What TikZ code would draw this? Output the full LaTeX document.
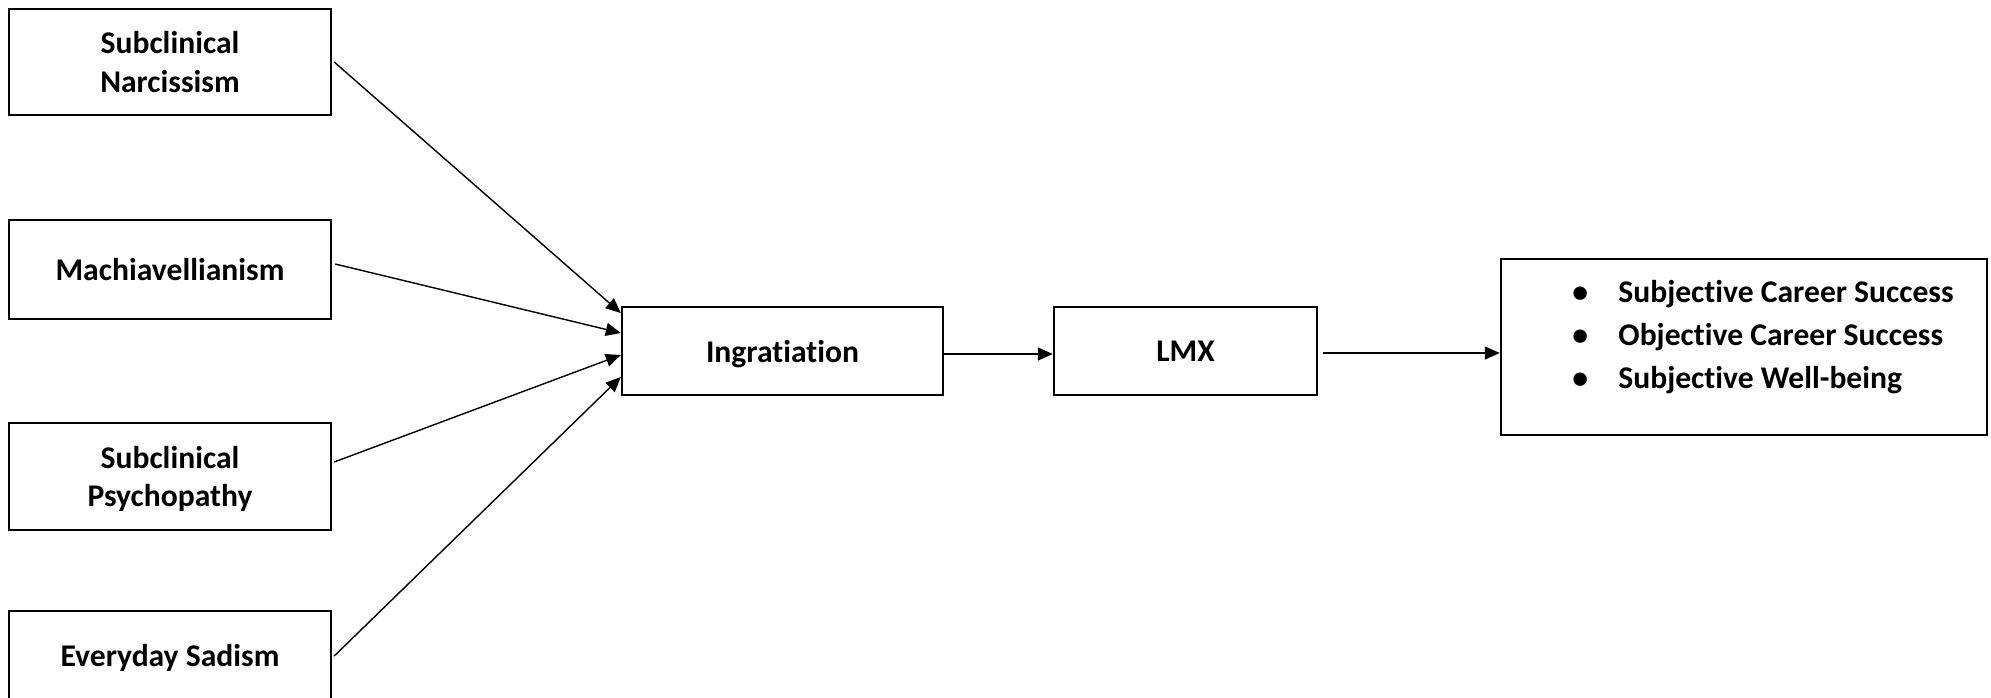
\documentclass[tikz,border=0pt]{standalone}
\usepackage{fontspec}
\setmainfont{Carlito}[RawFeature={-liga;-clig;-calt;-dlig}]
\usetikzlibrary{arrows.meta}

\begin{document}
\begin{tikzpicture}[
    x=0.5pt, y=-0.5pt,
    box/.style={draw=black, line width=1.2pt, rectangle, inner sep=0pt,
                align=center, font=\fontsize{15.8}{19.2}\selectfont\bfseries},
    nodesc/.style={text depth=0pt},
    link/.style={line width=0.7pt, -{Triangle[length=7.5pt, width=6.5pt]}}
  ]
  \useasboundingbox (0,0) rectangle (1991,697);
  \clip (0,0) rectangle (1991,697);

  % dark-triad / sadism traits
  \node[box, minimum width=161pt, minimum height=53pt]   (narc) at (170,62)    {Subclinical\\Narcissism};
  \node[box, minimum width=161pt, minimum height=49.5pt] (mach) at (170,269.5) {Machiavellianism};
  \node[box, nodesc, minimum width=161pt, minimum height=53.5pt] (psych) at (170,476.5) {Subclinical\\Psychopathy};
  \node[box, minimum width=161pt, minimum height=47pt] (sad) at (170,658)  {Everyday Sadism};

  % mediators
  \node[box, nodesc, minimum width=160.5pt, minimum height=44pt] (ingr) at (782.5,351) {Ingratiation};
  \node[box, nodesc, minimum width=131.5pt, minimum height=44pt] (lmx)  at (1185.5,351) {LMX};

  % outcomes
  \node[box, minimum width=243pt, minimum height=88pt] (out) at (1744,347) {};
  \node[inner sep=0pt, anchor=base west, font=\fontsize{15.8}{21.5}\selectfont\bfseries]
    (outlist) at (1572,302) {%
    \begin{tabular}[t]{@{}p{23pt}@{}l@{}}
      • & Subjective Career Success\\
      • & Objective Career Success\\
      • & Subjective Well-being
    \end{tabular}};

  % paths
  \draw[link] ([xshift=1pt]narc.east)                  -- ([yshift=19pt]ingr.west);
  \draw[link] ([xshift=1.5pt,yshift=2.75pt]mach.east)  -- ([yshift=9pt]ingr.west);
  \draw[link] ([xshift=1pt,yshift=7.25pt]psych.east)   -- ([yshift=-2pt]ingr.west);
  \draw[link] ([xshift=1pt,yshift=1pt]sad.east)        -- ([yshift=-13pt]ingr.west);
  \draw[link] ([yshift=-1.5pt]ingr.east) -- ([yshift=-1.5pt]lmx.west);
  \draw[link] ([xshift=2.5pt,yshift=-1pt]lmx.east) -- ([yshift=-3pt]out.west);
\end{tikzpicture}
\end{document}
